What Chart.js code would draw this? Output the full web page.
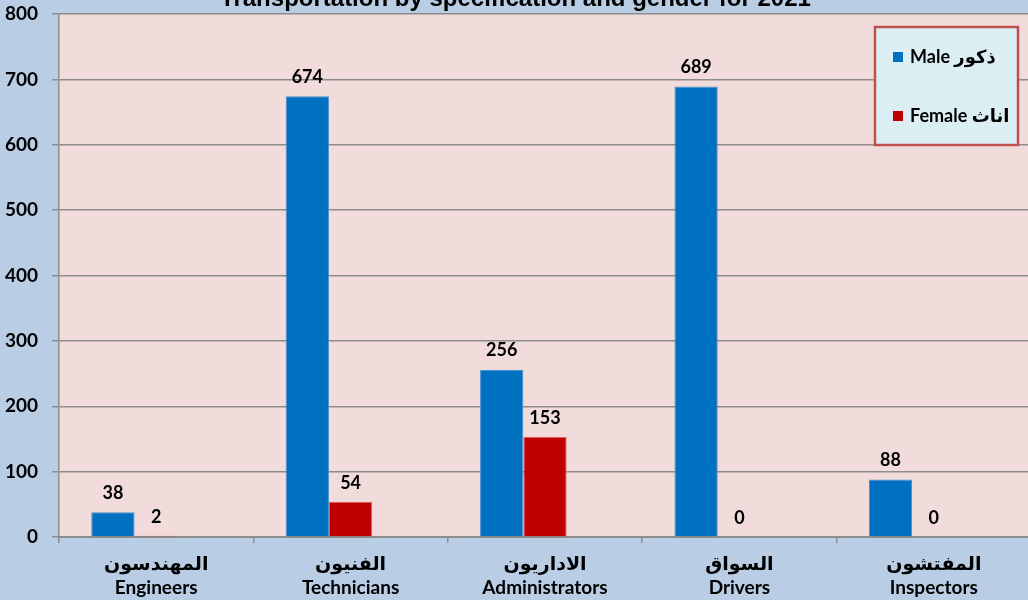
<!DOCTYPE html>
<html>
<head>
<meta charset="utf-8">
<script src="https://cdn.jsdelivr.net/npm/chart.js@4.4.1/dist/chart.umd.min.js"></script>
<style>
  html, body { margin: 0; padding: 0; background: #b9cde5; overflow: hidden; }
  #wrap { position: relative; width: 1028px; height: 600px; overflow: hidden; }
  #box { position: absolute; left: 0; top: -20px; width: 1040px; height: 620px; }
</style>
</head>
<body>
<div id="wrap"><div id="box"><canvas id="c"></canvas></div></div>
<script>
const chartTitle = 'Transportation by specification and gender for 2021';
const categories = [
  ['المهندسون', 'Engineers'],
  ['الفنيون', 'Technicians'],
  ['الاداريون', 'Administrators'],
  ['السواق', 'Drivers'],
  ['المفتشون', 'Inspectors']
];
const maleLabel = 'Male ذكور';
const femaleLabel = 'Female اناث';
const maleValues = [38, 674, 256, 689, 88];
const femaleValues = [2, 54, 153, 0, 0];
const emptySlot = [null, null, null, null, null];
const yMin = 0, yMax = 800, yStep = 100;

const FONT = "Lato, 'DejaVu Sans', sans-serif";

const plotBg = {
  id: 'plotBg',
  beforeDraw(chart) {
    const { ctx, chartArea: a } = chart;
    ctx.save();
    ctx.fillStyle = '#f2dcdb';
    ctx.fillRect(a.left, a.top, a.right - a.left, a.bottom - a.top);
    ctx.restore();
  }
};

const valueLabels = {
  id: 'valueLabels',
  afterDatasetsDraw(chart) {
    const { ctx } = chart;
    ctx.save();
    ctx.font = "bold 18px " + FONT;
    ctx.fillStyle = '#000';
    ctx.textAlign = 'center';
    ctx.textBaseline = 'middle';
    chart.data.datasets.forEach((ds, di) => {
      if (!ds.showValues) return;
      const meta = chart.getDatasetMeta(di);
      meta.data.forEach((bar, i) => {
        const v = ds.data[i];
        if (v === null || v === undefined) return;
        ctx.fillText(String(v), bar.x, bar.y - 19);
      });
    });
    ctx.restore();
  }
};

const boxLegend = {
  id: 'boxLegend',
  afterDraw(chart) {
    const { ctx, chartArea: a } = chart;
    const x = a.right - 156, y = a.top + 13, w = 143, h = 118;
    ctx.save();
    ctx.fillStyle = '#dbeef4';
    ctx.fillRect(x, y, w, h);
    ctx.strokeStyle = '#c0504d';
    ctx.lineWidth = 2.5;
    ctx.strokeRect(x, y, w, h);
    const items = chart.data.datasets.filter(d => d.showValues);
    ctx.font = "bold 18px " + FONT;
    ctx.textBaseline = 'middle';
    ctx.textAlign = 'left';
    ctx.direction = 'ltr';
    items.forEach((d, i) => {
      const cy = y + 30 + i * 59;
      ctx.fillStyle = d.backgroundColor;
      ctx.fillRect(x + 18, cy - 5, 10, 10);
      ctx.fillStyle = '#000';
      ctx.fillText(d.label, x + 35, cy);
    });
    ctx.restore();
  }
};

new Chart(document.getElementById('c'), {
  type: 'bar',
  data: {
    labels: categories,
    datasets: [
      { label: maleLabel, data: maleValues, backgroundColor: '#0070c0', borderColor: '#3f8fd0', borderWidth: 1, showValues: true },
      { label: femaleLabel, data: femaleValues, backgroundColor: '#c00000', borderColor: '#e06060', borderWidth: 1, showValues: true },
      { label: '', data: emptySlot, backgroundColor: 'rgba(0,0,0,0)', showValues: false }
    ]
  },
  options: {
    responsive: true,
    maintainAspectRatio: false,
    animation: false,
    layout: { padding: { left: 0, right: 9, top: 0, bottom: 0 } },
    datasets: { bar: { categoryPercentage: 0.668, barPercentage: 1.0 } },
    plugins: {
      legend: { display: false },
      tooltip: { enabled: false },
      title: {
        display: true,
        text: chartTitle,
        color: '#000',
        font: { family: "'Liberation Sans', Arial, sans-serif", size: 24, weight: 'bold', lineHeight: 1.1 },
        padding: { top: 6.3, bottom: 1.3 }
      }
    },
    scales: {
      x: {
        afterFit(scale) { scale.height = 63; },
        grid: { display: true, drawOnChartArea: false, drawTicks: true, tickLength: 6, color: '#8c8c8c', lineWidth: 1.5 },
        border: { display: true, color: '#8c8c8c', width: 2 },
        ticks: {
          color: '#000',
          padding: 9,
          maxRotation: 0,
          autoSkip: false,
          font: { family: FONT, size: 19, weight: 'bold', lineHeight: 1.25 }
        }
      },
      y: {
        min: yMin,
        max: yMax,
        afterFit(scale) { scale.width = 59; },
        grid: { color: '#8c8c8c', lineWidth: 1.5, tickLength: 7 },
        border: { display: true, color: '#8c8c8c', width: 1.5 },
        ticks: {
          stepSize: yStep,
          color: '#000',
          padding: 14,
          font: { family: FONT, size: 19, weight: 'bold' }
        }
      }
    }
  },
  plugins: [plotBg, valueLabels, boxLegend]
});
</script>
</body>
</html>
